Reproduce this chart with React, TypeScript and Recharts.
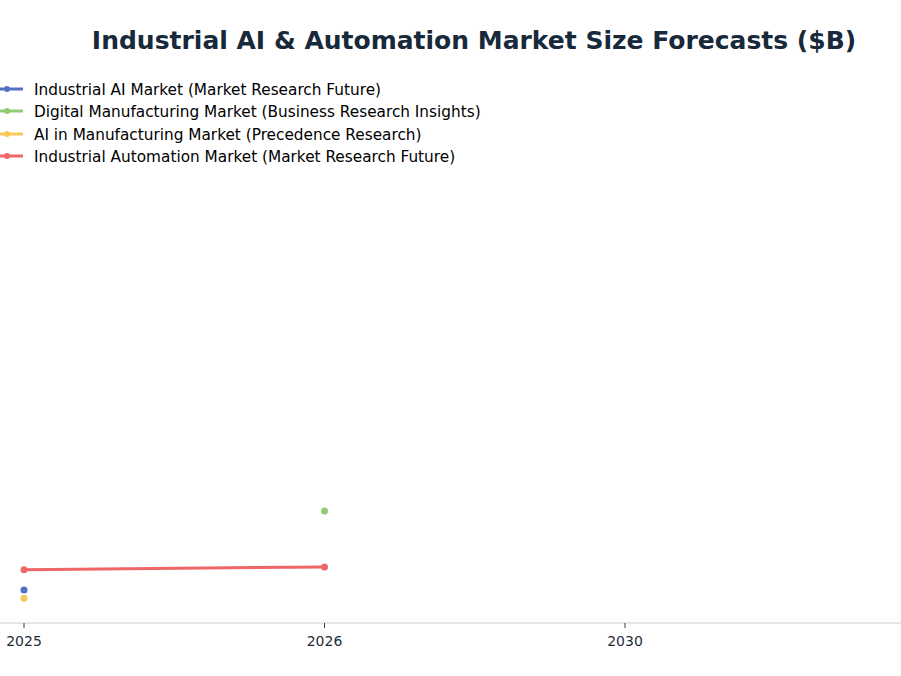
import React from 'react';
import { LineChart, Line, XAxis, YAxis } from 'recharts';

const years = ['2025', '2026', '2030'];
const industrialAI = [44, null, null];
const digitalManufacturing = [null, 149, null];
const aiInManufacturing = [33, null, null];
const industrialAutomation = [71, 74.5, null];

const seriesNames = [
  'Industrial AI Market (Market Research Future)',
  'Digital Manufacturing Market (Business Research Insights)',
  'AI in Manufacturing Market (Precedence Research)',
  'Industrial Automation Market (Market Research Future)',
];
const seriesColors = ['#5470c6', '#91cc75', '#fac858', '#ee6666'];
const seriesValues = [industrialAI, digitalManufacturing, aiInManufacturing, industrialAutomation];

const data = years.map((year, i) => {
  const row: Record<string, any> = { year };
  seriesValues.forEach((vals, s) => {
    row['s' + s] = vals[i];
  });
  return row;
});

const FONT = '"DejaVu Sans", sans-serif';
const legendTops = [90, 112, 135, 157];

export default function App() {
  return (
    <div style={{ position: 'absolute', left: 0, top: 0, width: 901, height: 676, overflow: 'hidden', background: '#fff', fontFamily: FONT }}>
      <div
        style={{
          position: 'absolute',
          left: 0,
          width: 948,
          top: 26,
          textAlign: 'center',
          fontSize: 25,
          fontWeight: 'bold',
          color: '#17293a',
          lineHeight: '30px',
          whiteSpace: 'nowrap',
        }}
      >
        Industrial AI &amp; Automation Market Size Forecasts ($B)
      </div>
      {seriesNames.map((name, i) => (
        <div key={name} style={{ position: 'absolute', left: 0, top: legendTops[i] - 10, height: 20, whiteSpace: 'nowrap' }}>
          <svg width={30} height={20} style={{ position: 'absolute', left: 0, top: 0 }}>
            <line x1={-4} y1={9} x2={23} y2={9} stroke={seriesColors[i]} strokeWidth={3} />
            <circle cx={7} cy={9} r={3} fill={seriesColors[i]} />
          </svg>
          <span style={{ position: 'absolute', left: 34, top: 0, fontSize: 15.3, lineHeight: '20px', color: '#000' }}>{name}</span>
        </div>
      ))}
      <div style={{ position: 'absolute', left: 0, top: 0 }}>
        <LineChart width={901} height={676} data={data} margin={{ top: 172, right: 0, bottom: 23, left: 0 }}>
          <XAxis
            dataKey="year"
            padding={{ left: 24, right: 276 }}
            axisLine={{ stroke: '#cccccc' }}
            tickLine={{ stroke: '#333f4a' }}
            tickSize={5}
            tickMargin={8}
            height={30}
            tick={{ fill: '#1f2d3a', fontSize: 14, fontFamily: FONT }}
            interval={0}
          />
          <YAxis hide domain={[0, 600]} />
          {seriesNames.map((name, i) => (
            <Line
              key={name}
              type="linear"
              dataKey={'s' + i}
              name={name}
              stroke={seriesColors[i]}
              strokeWidth={3}
              dot={{ r: 3.5, fill: seriesColors[i], stroke: seriesColors[i], strokeWidth: 0 }}
              activeDot={false}
              isAnimationActive={false}
            />
          ))}
        </LineChart>
      </div>
    </div>
  );
}
